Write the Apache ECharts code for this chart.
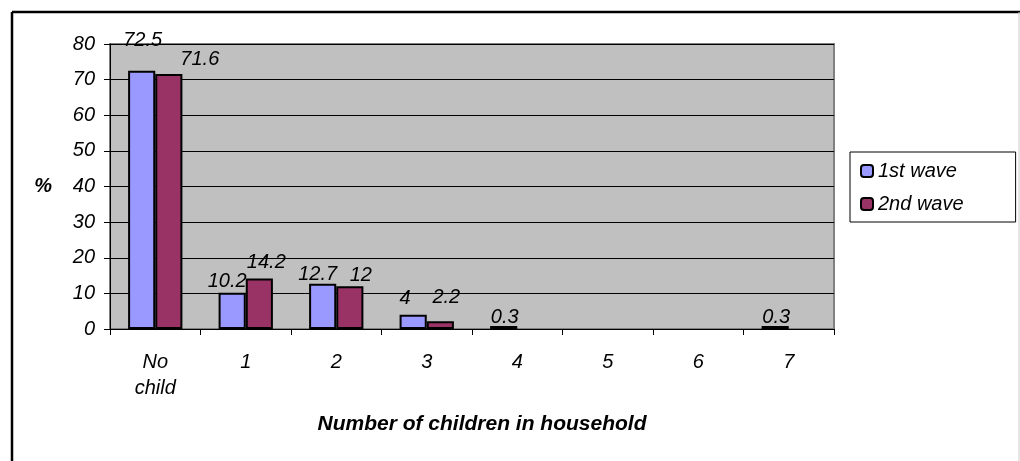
<!DOCTYPE html>
<html>
<head>
<meta charset="utf-8">
<script src="https://cdn.jsdelivr.net/npm/echarts@6/dist/echarts.min.js"></script>
<style>
	html, body { margin: 0; padding: 0; background: #fff; }
	#main { width: 1020px; height: 461px; }
</style>
</head>
<body>
<div id="main"></div>
<script>
	// data
	var categories = ['No\nchild', '1', '2', '3', '4', '5', '6', '7'];
	var firstWave = [72.5, 10.2, 12.7, 4, 0.3, null, null, 0.3];
	var secondWave = [71.6, 14.2, 12, 2.2, null, null, null, null];
	var yTicks = { min: 0, max: 80, step: 10 };

	// small label nudges, like the original where overlapping labels were moved
	var firstNudge = [[1, -19], [-5, 0], [-5, 2], [-8, -5], [1, 2], null, null, [1, 2]];
	var secondNudge = [[31, -3], [7, -5], [11, 0], [6, -13], null, null, null, null];

	var font = 'Liberation Sans, Arial, sans-serif';

	var chart = echarts.init(document.getElementById('main'));

	var labelStyle = {
		show: true,
		position: 'top',
		distance: 1,
		fontFamily: font,
		fontSize: 20,
		fontStyle: 'italic',
		color: '#000'
	};

	function withNudge(values, nudges) {
		return values.map(function(v, i) {
			if (v === null) return null;
			var item = { value: v };
			if (nudges[i]) item.label = { offset: nudges[i] };
			return item;
		});
	}

	var option = {
		backgroundColor: '#fff',
		animation: false,
		graphic: [
			// outer chart frame
			{ type: 'line', shape: { x1: 12, y1: 12, x2: 1020, y2: 12 }, style: { stroke: '#000', lineWidth: 2.5 } },
			{ type: 'line', shape: { x1: 12, y1: 12, x2: 12, y2: 461 }, style: { stroke: '#000', lineWidth: 2.5 } },
			{ type: 'line', shape: { x1: 1019, y1: 12, x2: 1019, y2: 461 }, style: { stroke: '#ccc', lineWidth: 1 } }
		],
		legend: {
			orient: 'vertical',
			left: 850,
			top: 152,
			padding: [9, 52, 8, 10],
			borderColor: '#000',
			borderWidth: 1,
			itemWidth: 12,
			itemHeight: 12,
			itemGap: 13,
			textStyle: { fontFamily: font, fontSize: 20, fontStyle: 'italic', color: '#000' },
			data: ['1st wave', '2nd wave']
		},
		grid: {
			left: 110,
			right: 186,
			top: 44,
			bottom: 132,
			show: true,
			backgroundColor: '#c0c0c0',
			borderColor: '#808080',
			borderWidth: 2
		},
		xAxis: {
			type: 'category',
			data: categories,
			name: 'Number of children in household',
			nameLocation: 'middle',
			nameGap: 85,
			nameTextStyle: { fontFamily: font, fontSize: 21, fontStyle: 'italic', fontWeight: 'bold', color: '#000', padding: [0, 0, 0, 20] },
			axisLine: { lineStyle: { color: '#000', width: 1 } },
			axisTick: { show: true, inside: false, length: 6, lineStyle: { color: '#000' } },
			axisLabel: { fontFamily: font, fontSize: 20, fontStyle: 'italic', color: '#000', margin: 20, lineHeight: 26 }
		},
		yAxis: {
			type: 'value',
			min: yTicks.min,
			max: yTicks.max,
			interval: yTicks.step,
			name: '%',
			nameLocation: 'middle',
			nameRotate: 0,
			nameGap: 58,
			nameTextStyle: { fontFamily: font, fontSize: 20, fontStyle: 'italic', fontWeight: 'bold', color: '#000', padding: [0, 0, 12, 0] },
			axisLine: { show: true, lineStyle: { color: '#000', width: 1 } },
			axisTick: { show: true, length: 6, lineStyle: { color: '#000' } },
			axisLabel: { fontFamily: font, fontSize: 20, fontStyle: 'italic', color: '#000', margin: 15 },
			splitLine: { show: true, lineStyle: { color: '#000', width: 1 } }
		},
		series: [
			{
				name: '1st wave',
				type: 'bar',
				data: withNudge(firstWave, firstNudge),
				barGap: '0%',
				barCategoryGap: '40%',
				barMinHeight: 3,
				itemStyle: { color: '#9999ff', borderColor: '#000', borderWidth: 2 },
				label: labelStyle
			},
			{
				name: '2nd wave',
				type: 'bar',
				data: withNudge(secondWave, secondNudge),
				barMinHeight: 3,
				itemStyle: { color: '#993366', borderColor: '#000', borderWidth: 2 },
				label: labelStyle
			}
		]
	};

	chart.setOption(option);
</script>
</body>
</html>
